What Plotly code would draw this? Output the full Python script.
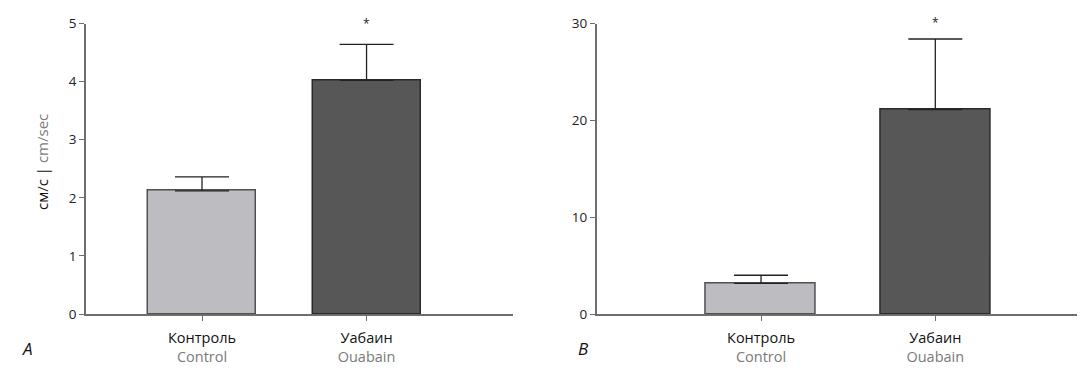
import plotly.graph_objects as go

# ---- data ----
categories = ["Контроль", "Уабаин"]
categories_en = ["Control", "Ouabain"]
means_a = [2.12, 4.02]
errors_a = [0.24, 0.62]
means_b = [3.17, 21.1]
errors_b = [0.83, 7.3]
sig_a = ["", "*"]
sig_b = ["", "*"]
yticks_a = [0, 1, 2, 3, 4, 5]
yticks_b = [0, 10, 20, 30]

FONT = "Open Sans"
bar_colors = ["#bdbcc1", "#575757"]
line_colors = ["#505050", "#2a2a2a"]
axis_color = "#6e6e6e"

ticktext = [f"{ru}<br><span style='color:#7a7a7a'>{en}</span>" for ru, en in zip(categories, categories_en)]
xpos = list(range(len(categories)))

W, H, OFF = 1090, 379, 8  # page body margin offset

def px_x(p):
    return (p - OFF) / W

def px_y(p):
    return 1 - (p - OFF) / H

fig = go.Figure()

def add_panel(means, errors, xa, ya, width):
    fig.add_trace(go.Bar(
        x=xpos, y=means, width=width,
        marker=dict(color=bar_colors, line=dict(color=line_colors, width=1.5)),
        error_y=dict(type="data", array=errors, arrayminus=[0] * len(errors),
                     symmetric=False, color="#222222", thickness=1.3, width=27),
        xaxis=xa, yaxis=ya, showlegend=False,
    ))

add_panel(means_a, errors_a, "x", "y", 0.656)
add_panel(means_b, errors_b, "x2", "y2", 0.63)

ydom = [px_y(314), px_y(23.5)]
common_x = dict(tickmode="array", tickvals=xpos, ticktext=ticktext, ticks="outside",
                ticklen=5, tickcolor=axis_color, showline=True, linecolor=axis_color,
                linewidth=1.5, showgrid=False, zeroline=False, automargin=False,
                ticklabelstandoff=5,
                tickfont=dict(family=FONT, size=14.5, color="#111111"))
common_y = dict(ticks="outside", ticklen=5, tickcolor=axis_color, showline=True,
                linecolor=axis_color, linewidth=1.5, showgrid=False, zeroline=False,
                automargin=False,
                tickfont=dict(family=FONT, size=13.5, color="#222222"), tickmode="array")

fig.update_layout(
    template="none",
    width=W, height=H,
    margin=dict(l=0, r=0, t=0, b=0, autoexpand=False),
    paper_bgcolor="white", plot_bgcolor="white",
    bargap=0,
    xaxis=dict(domain=[px_x(86), px_x(513)], range=[-0.705, 1.89], anchor="y", **common_x),
    yaxis=dict(domain=ydom, range=[0, 5], anchor="x", tickvals=yticks_a, **common_y),
    xaxis2=dict(domain=[px_x(596.7), px_x(1077)], range=[-0.943, 1.813], anchor="y2", **common_x),
    yaxis2=dict(domain=ydom, range=[0, 30], anchor="x2", tickvals=yticks_b, **common_y),
)

anns = []
for i, s in enumerate(sig_a):
    if s:
        anns.append(dict(x=xpos[i], y=means_a[i] + errors_a[i], xref="x", yref="y", text=s,
                         showarrow=False, yanchor="bottom", yshift=10,
                         font=dict(family=FONT, size=12, color="#222")))
for i, s in enumerate(sig_b):
    if s:
        anns.append(dict(x=xpos[i], y=means_b[i] + errors_b[i], xref="x2", yref="y2", text=s,
                         showarrow=False, yanchor="bottom", yshift=6,
                         font=dict(family=FONT, size=12, color="#222")))
anns.append(dict(x=px_x(30), y=px_y(162), xref="paper", yref="paper", textangle=-90,
                 text="см/с | <span style='color:#7a7a7a'>cm/sec</span>", showarrow=False,
                 font=dict(family=FONT, size=15, color="#111")))
anns.append(dict(x=px_x(20), y=px_y(362), xref="paper", yref="paper", text="<i>A</i>",
                 showarrow=False, font=dict(family=FONT, size=17, color="#111")))
anns.append(dict(x=px_x(583), y=px_y(362), xref="paper", yref="paper", text="<i>B</i>",
                 showarrow=False, font=dict(family=FONT, size=17, color="#111")))
fig.update_layout(annotations=anns)

fig.write_html("out.html")
